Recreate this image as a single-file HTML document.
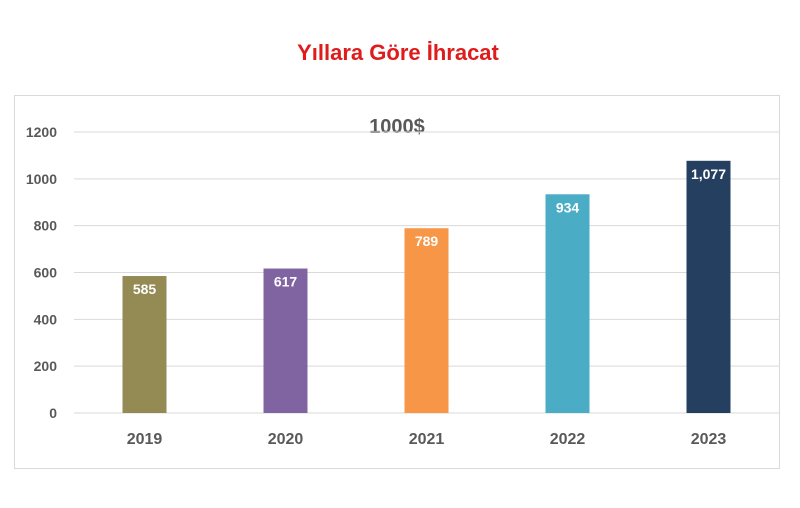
<!DOCTYPE html>
<html><head><meta charset="utf-8"><style>
body{margin:0;background:#fff;width:800px;height:503px;overflow:hidden;font-family:"Liberation Sans",sans-serif}
</style></head><body>
<svg width="800" height="503">
<text x="398" y="60" text-anchor="middle" font-size="22" font-weight="bold" fill="#e01b1b">Yıllara Göre İhracat</text>
<rect x="14.5" y="95.5" width="765" height="373" fill="none" stroke="#d9d9d9"/>
<text x="397" y="133" text-anchor="middle" font-size="20" font-weight="bold" fill="#595959">1000$</text>
<g id="grid"></g><g id="bars"></g>
</svg>
<script>
const categories=["2019","2020","2021","2022","2023"];
const values=[585,617,789,934,1077];
const labels=["585","617","789","934","1,077"];
const ticks=[0,200,400,600,800,1000,1200];
const colors=["#948a54","#8064a2","#f79646","#4bacc6","#243f60"];
const NS="http://www.w3.org/2000/svg";
const y0=413,y1=132,x0=74,x1=779;
const yS=v=>y0-(v/1200)*(y0-y1);
const band=(x1-x0)/categories.length;
const xC=i=>x0+band*(i+0.5);
function mk(t,a,p){const e=document.createElementNS(NS,t);for(const k in a)e.setAttribute(k,a[k]);p.appendChild(e);return e;}
const g=document.getElementById('grid'),b=document.getElementById('bars');
ticks.forEach(t=>{
const l=mk('line',{x1:x0,x2:x1,y1:yS(t),y2:yS(t),stroke:'#d9d9d9','stroke-width':1},g);


const tx=mk('text',{x:57,y:yS(t)+5,'text-anchor':'end','font-size':14,'font-weight':'bold',fill:'#595959'},g);
tx.textContent=t;


});
categories.forEach((c,i)=>{
const w=44,x=xC(i)-w/2,y=yS(values[i]);
const r=mk('rect',{x:x,y:y,width:w,height:y0-y,fill:colors[i]},b);


const v=mk('text',{x:xC(i),y:y+18,'text-anchor':'middle','font-size':14,'font-weight':'bold',fill:'#fff'},b);
v.textContent=labels[i];


const cl=mk('text',{x:xC(i),y:444,'text-anchor':'middle','font-size':16,'font-weight':'bold',fill:'#595959'},b);
cl.textContent=c;


});
</script>
</body></html>
